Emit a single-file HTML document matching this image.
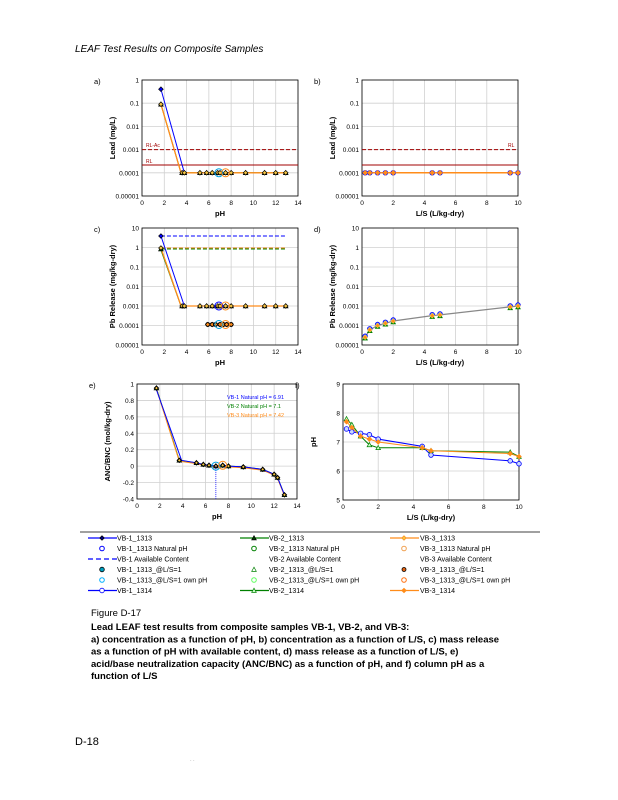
<!DOCTYPE html>
<html><head><meta charset="utf-8">
<style>
body{margin:0;background:#fff;}
#wrap{position:relative;width:618px;height:800px;overflow:hidden;background:#fff;}
svg text{font-family:"Liberation Sans",sans-serif;}
</style></head>
<body><div id="wrap">
<svg id="s" width="618" height="800" xmlns="http://www.w3.org/2000/svg"></svg>
</div>
<script>
const S=document.getElementById('s');let h='';
function t(x,y,s,o={}){h+=`<text x="${x}" y="${y}" font-size="${o.fs||7}" fill="${o.c||'#000'}" ${o.a?`text-anchor="${o.a}"`:''} ${o.w?'font-weight="bold"':''} ${o.st||''} ${o.r?`transform="rotate(-90 ${x} ${y})"`:''}>${s}</text>`;}
function l(x1,y1,x2,y2,c,w,d){h+=`<line x1="${x1}" y1="${y1}" x2="${x2}" y2="${y2}" stroke="${c}" stroke-width="${w||1}" ${d?`stroke-dasharray="${d}"`:''}/>`;}
function pl(pts,c,w,d){h+=`<polyline points="${pts.map(p=>p.join(',')).join(' ')}" fill="none" stroke="${c}" stroke-width="${w||1}" ${d?`stroke-dasharray="${d}"`:''}/>`;}
function m(x,y,type,fill,st,r){r=r||2.3;
 if(type=='d')h+=`<polygon points="${x},${y-r} ${x+r},${y} ${x},${y+r} ${x-r},${y}" fill="${fill}" stroke="${st}" stroke-width="0.7"/>`;
 else if(type=='t')h+=`<polygon points="${x},${y-r} ${x+r},${y+r*0.8} ${x-r},${y+r*0.8}" fill="${fill}" stroke="${st}" stroke-width="0.7"/>`;
 else h+=`<circle cx="${x}" cy="${y}" r="${r}" fill="${fill}" stroke="${st}" stroke-width="0.8"/>`;}
const B='#0000ff',G='#008000',O='#ff8c1a',Y='#f5c542';
function frame(x0,x1,y0,y1,xt,yt,ylab,xlab,letter,xmax){
 for(const [v,lab] of xt){const x=x0+(x1-x0)*v/xmax;l(x,y0,x,y1,'#d0d0d0',0.8);t(x,y1+9,lab,{a:'middle',fs:6.5});}
 for(const [y,lab] of yt){l(x0,y,x1,y,'#d0d0d0',0.8);t(x0-3,y+2.5,lab,{a:'end',fs:6.5});}
 h+=`<rect x="${x0}" y="${y0}" width="${x1-x0}" height="${y1-y0}" fill="none" stroke="#000" stroke-width="0.8"/>`;
 t((x0+x1)/2,y1+20,xlab,{a:'middle',fs:7.5,w:1});
 t(x0-27,(y0+y1)/2,ylab,{a:'middle',fs:7.5,w:1,r:1});
 t(x0-48,y0+4,letter,{fs:7.5});
}
let ax=v=>142+156*v/14, ay=v=>80-Math.log10(v)*23.2;
let xtA=[[0,'0'],[2,'2'],[4,'4'],[6,'6'],[8,'8'],[10,'10'],[12,'12'],[14,'14']];
let ytA=[[80,'1'],[103.2,'0.1'],[126.4,'0.01'],[149.6,'0.001'],[172.8,'0.0001'],[196,'0.00001']];
frame(142,298,80,196,xtA,ytA,'Lead (mg/L)','pH','a)',14);
l(142,149.6,298,149.6,'#a00000',1,'4,2');l(142,165,298,165,'#a00000',1);
t(146,147,'RL-Ac',{c:'#a00000',fs:5});t(146,163,'RL',{c:'#a00000',fs:5});
const phs=[3.6,3.8,5.2,5.8,6.3,6.8,7.0,7.5,8.0,9.3,11,12,12.9];
pl([[ax(1.7),ay(0.09)],[ax(3.5),ay(0.0001)],[ax(12.9),ay(0.0001)]],G,1);
pl([[ax(1.7),ay(0.09)],[ax(3.5),ay(0.0001)],[ax(12.9),ay(0.0001)]],O,1.3);
pl([[ax(1.7),ay(0.4)],[ax(3.8),ay(0.0001)]],B,1);
m(ax(1.7),ay(0.4),'d',B,'#000');m(ax(1.7),ay(0.09),'t',G,'#000');m(ax(1.7),ay(0.09),'d',Y,'#000');
for(const p of phs){m(ax(p),ay(0.0001),'t',G,'#000');m(ax(p),ay(0.0001),'d',Y,'#000');}
h+=`<circle cx="${ax(6.9)}" cy="${ay(0.0001)}" r="4" fill="none" stroke="#00a0e0"/><circle cx="${ax(7.5)}" cy="${ay(0.0001)}" r="4" fill="none" stroke="${O}"/>`;
let bx=v=>362+156*v/10;
frame(362,518,80,196,[[0,'0'],[2,'2'],[4,'4'],[6,'6'],[8,'8'],[10,'10']],ytA,'Lead (mg/L)','L/S (L/kg-dry)','b)',10);
l(362,149.6,518,149.6,'#a00000',1,'4,2');l(362,165,518,165,'#a00000',1);t(508,147,'RL',{c:'#a00000',fs:5});
pl([[bx(0.1),ay(0.0001)],[bx(10),ay(0.0001)]],O,1.5);
const ls=[0.2,0.5,1,1.5,2,4.5,5,9.5,10];
for(const v of ls){m(bx(v),ay(0.0001),'o','#6080ff',B);m(bx(v),ay(0.0001),'d',O,O);}
let cy=v=>228+(1-Math.log10(v))*19.5;
let ytC=[[228,'10'],[247.5,'1'],[267,'0.1'],[286.5,'0.01'],[306,'0.001'],[325.5,'0.0001'],[345,'0.00001']];
frame(142,298,228,345,xtA,ytC,'Pb Release (mg/kg-dry)','pH','c)',14);
l(ax(1.7),236,ax(12.9),236,B,1,'4,2');l(ax(1.7),249,ax(12.9),249,G,1,'4,2');l(ax(1.7),248,ax(12.9),248,O,1,'4,2');
pl([[ax(1.7),250],[ax(3.5),306],[ax(12.9),306]],G,1);
pl([[ax(1.7),248],[ax(3.5),306],[ax(12.9),306]],O,1.3);
pl([[ax(1.7),236],[ax(3.8),306]],B,1);
m(ax(1.7),236,'d',B,'#000');m(ax(1.7),249,'t',G,'#000');m(ax(1.7),248,'d',Y,'#000');
for(const p of phs){m(ax(p),306,'t',G,'#000');m(ax(p),306,'d',Y,'#000');}
h+=`<circle cx="${ax(6.9)}" cy="306" r="4" fill="none" stroke="${B}"/><circle cx="${ax(7.5)}" cy="306" r="4" fill="none" stroke="${O}"/>`;
for(const p of [5.9,6.3,6.6,7,7.3,7.6,8.0]){m(ax(p),324.5,'o','#00a0c0','#000',2);m(ax(p),324.5,'d',O,'#000');}
h+=`<circle cx="${ax(6.9)}" cy="324.5" r="4" fill="none" stroke="#00a0e0"/><circle cx="${ax(7.5)}" cy="324.5" r="4" fill="none" stroke="${O}"/>`;
frame(362,518,228,345,[[0,'0'],[2,'2'],[4,'4'],[6,'6'],[8,'8'],[10,'10']],ytC,'Pb Release (mg/kg-dry)','L/S (L/kg-dry)','d)',10);
const dv=[[0.2,0.000025],[0.5,0.00006],[1,0.0001],[1.5,0.00013],[2,0.00017],[4.5,0.00032],[5,0.00035],[9.5,0.0009],[10,0.001]];
pl(dv.map(p=>[bx(p[0]),cy(p[1])]),'#888',1.2);
for(const p of dv){m(bx(p[0]),cy(p[1])-1,'o','#6080ff',B);m(bx(p[0]),cy(p[1])+1,'t',G,G);m(bx(p[0]),cy(p[1]),'d',O,Y);}
let ex=v=>137+160*v/14, ey=v=>384+(1-v)*82.1;
let ytE=[[ey(1),'1'],[ey(0.8),'0.8'],[ey(0.6),'0.6'],[ey(0.4),'0.4'],[ey(0.2),'0.2'],[ey(0),'0'],[ey(-0.2),'-0.2'],[ey(-0.4),'-0.4']];
frame(137,297,384,499,xtA,ytE,'ANC/BNC (mol/kg-dry)','pH','e)',14);
const ev=[[1.7,0.95],[3.7,0.07],[5.2,0.04],[5.8,0.02],[6.3,0.01],[6.9,0],[7.5,0.01],[8,0],[9.3,-0.01],[11,-0.04],[12,-0.1],[12.3,-0.14],[12.9,-0.35]];
pl(ev.map(p=>[ex(p[0]),ey(p[1])]),G,1);
pl(ev.map(p=>[ex(p[0]),ey(p[1]-0.01)]),O,1);
pl([[ex(1.7),ey(0.93)],[ex(3.9),ey(0.07)]].concat(ev.slice(2).map(p=>[ex(p[0]),ey(p[1])])),B,1);
for(const p of ev){m(ex(p[0]),ey(p[1]),'d','#000','#000');m(ex(p[0]),ey(p[1]),'t',G,'#000');m(ex(p[0]),ey(p[1]),'d',Y,'#000',1.8);}
l(ex(6.9),ey(0),ex(6.9),499,B,0.8,'1,1');
h+=`<circle cx="${ex(6.9)}" cy="${ey(0)}" r="4" fill="none" stroke="#00a0e0"/><circle cx="${ex(7.5)}" cy="${ey(0.01)}" r="4" fill="none" stroke="${O}"/>`;
t(227,399,'VB-1 Natural pH = 6.91',{c:B,fs:5.5});t(227,408,'VB-2 Natural pH = 7.1',{c:G,fs:5.5});t(227,417,'VB-3 Natural pH = 7.42',{c:O,fs:5.5});
let fx=v=>343+176*v/10, fy=v=>384+(9-v)*29;
frame(343,519,384,500,[[0,'0'],[2,'2'],[4,'4'],[6,'6'],[8,'8'],[10,'10']],[[fy(9),'9'],[fy(8),'8'],[fy(7),'7'],[fy(6),'6'],[fy(5),'5']],'pH','L/S (L/kg-dry)','f)',10);
const f1=[[0.2,7.45],[0.5,7.35],[1,7.3],[1.5,7.25],[2,7.1],[4.5,6.85],[5,6.55],[9.5,6.35],[10,6.25]];
const f2=[[0.2,7.8],[0.5,7.6],[1,7.2],[1.5,6.9],[2,6.8],[4.5,6.8],[5,6.7],[9.5,6.65],[10,6.5]];
const f3=[[0.2,7.7],[0.5,7.5],[1,7.2],[1.5,7.1],[2,7.0],[4.5,6.8],[5,6.7],[9.5,6.6],[10,6.5]];
pl(f1.map(p=>[fx(p[0]),fy(p[1])]),B,1);pl(f2.map(p=>[fx(p[0]),fy(p[1])]),G,1);pl(f3.map(p=>[fx(p[0]),fy(p[1])]),O,1);
for(const p of f1)m(fx(p[0]),fy(p[1]),'o','#c8d8ff',B);
for(const p of f2)m(fx(p[0]),fy(p[1]),'t','#c8ffc8',G);
for(const p of f3)m(fx(p[0]),fy(p[1]),'d',O,O);
l(80,532,540,532,'#000',0.8);
const cols=[[88,117,B,'VB-1'],[240,269,G,'VB-2'],[390,420,O,'VB-3']];
const rows=[538,548.5,559,569.5,580,590.5];
cols.forEach(([lx,tx,c,n],i)=>{
 const mt=i==0?'d':(i==1?'t':'d');
 l(lx,rows[0],lx+29,rows[0],c,1.2);m(lx+14,rows[0],mt,i==0?'#000080':(i==1?'#004000':Y),i==2?O:'#000');
 t(tx,rows[0]+2.5,n+'_1313',{fs:7});
 h+=`<circle cx="${lx+14}" cy="${rows[1]}" r="2.3" fill="none" stroke="${i==0?B:(i==1?G:'#f0a050')}"/>`;
 t(tx,rows[1]+2.5,n+'_1313 Natural pH',{fs:7});
 if(i==0)l(lx,rows[2],lx+29,rows[2],B,1.2,'5,3');
 t(tx,rows[2]+2.5,n+' Available Content',{fs:7});
 if(i==0)m(lx+14,rows[3],'o','#00a0c0','#000');else if(i==1)m(lx+14,rows[3],'t','#fff',G);else m(lx+14,rows[3],'o','#e06010','#000',2);
 t(tx,rows[3]+2.5,n+'_1313_@L/S=1',{fs:7});
 h+=`<circle cx="${lx+14}" cy="${rows[4]}" r="2.3" fill="none" stroke="${i==0?'#00b0ff':(i==1?'#60ff60':'#ff7010')}"/>`;
 t(tx,rows[4]+2.5,n+'_1313_@L/S=1 own pH',{fs:7});
 l(lx,rows[5],lx+29,rows[5],c,1.2);m(lx+14,rows[5],i==0?'o':(i==1?'t':'d'),i==0?'#fff':(i==1?'#c8ffc8':O),c);
 t(tx,rows[5]+2.5,n+'_1314',{fs:7});
});
const cap=['Lead LEAF test results from composite samples VB-1, VB-2, and VB-3:','a) concentration as a function of pH, b) concentration as a function of L/S, c) mass release','as a function of pH with available content, d) mass release as a function of L/S, e)','acid/base neutralization capacity (ANC/BNC) as a function of pH, and f) column pH as a','function of L/S'];
t(91,616,'Figure D-17',{fs:9.5});
cap.forEach((s,i)=>t(91,630+i*12.3,s,{fs:9.5,w:1}));
h+=`<text x="75" y="52" font-size="10" font-style="italic" font-family="Liberation Serif,serif">LEAF Test Results on Composite Samples</text>`;
h+=`<text x="75" y="745" font-size="11" font-family="Liberation Serif,serif">D-18</text>`;
t(190,762,'· ·',{fs:5,c:'#888'});
S.innerHTML=h;
</script>
</body></html>
